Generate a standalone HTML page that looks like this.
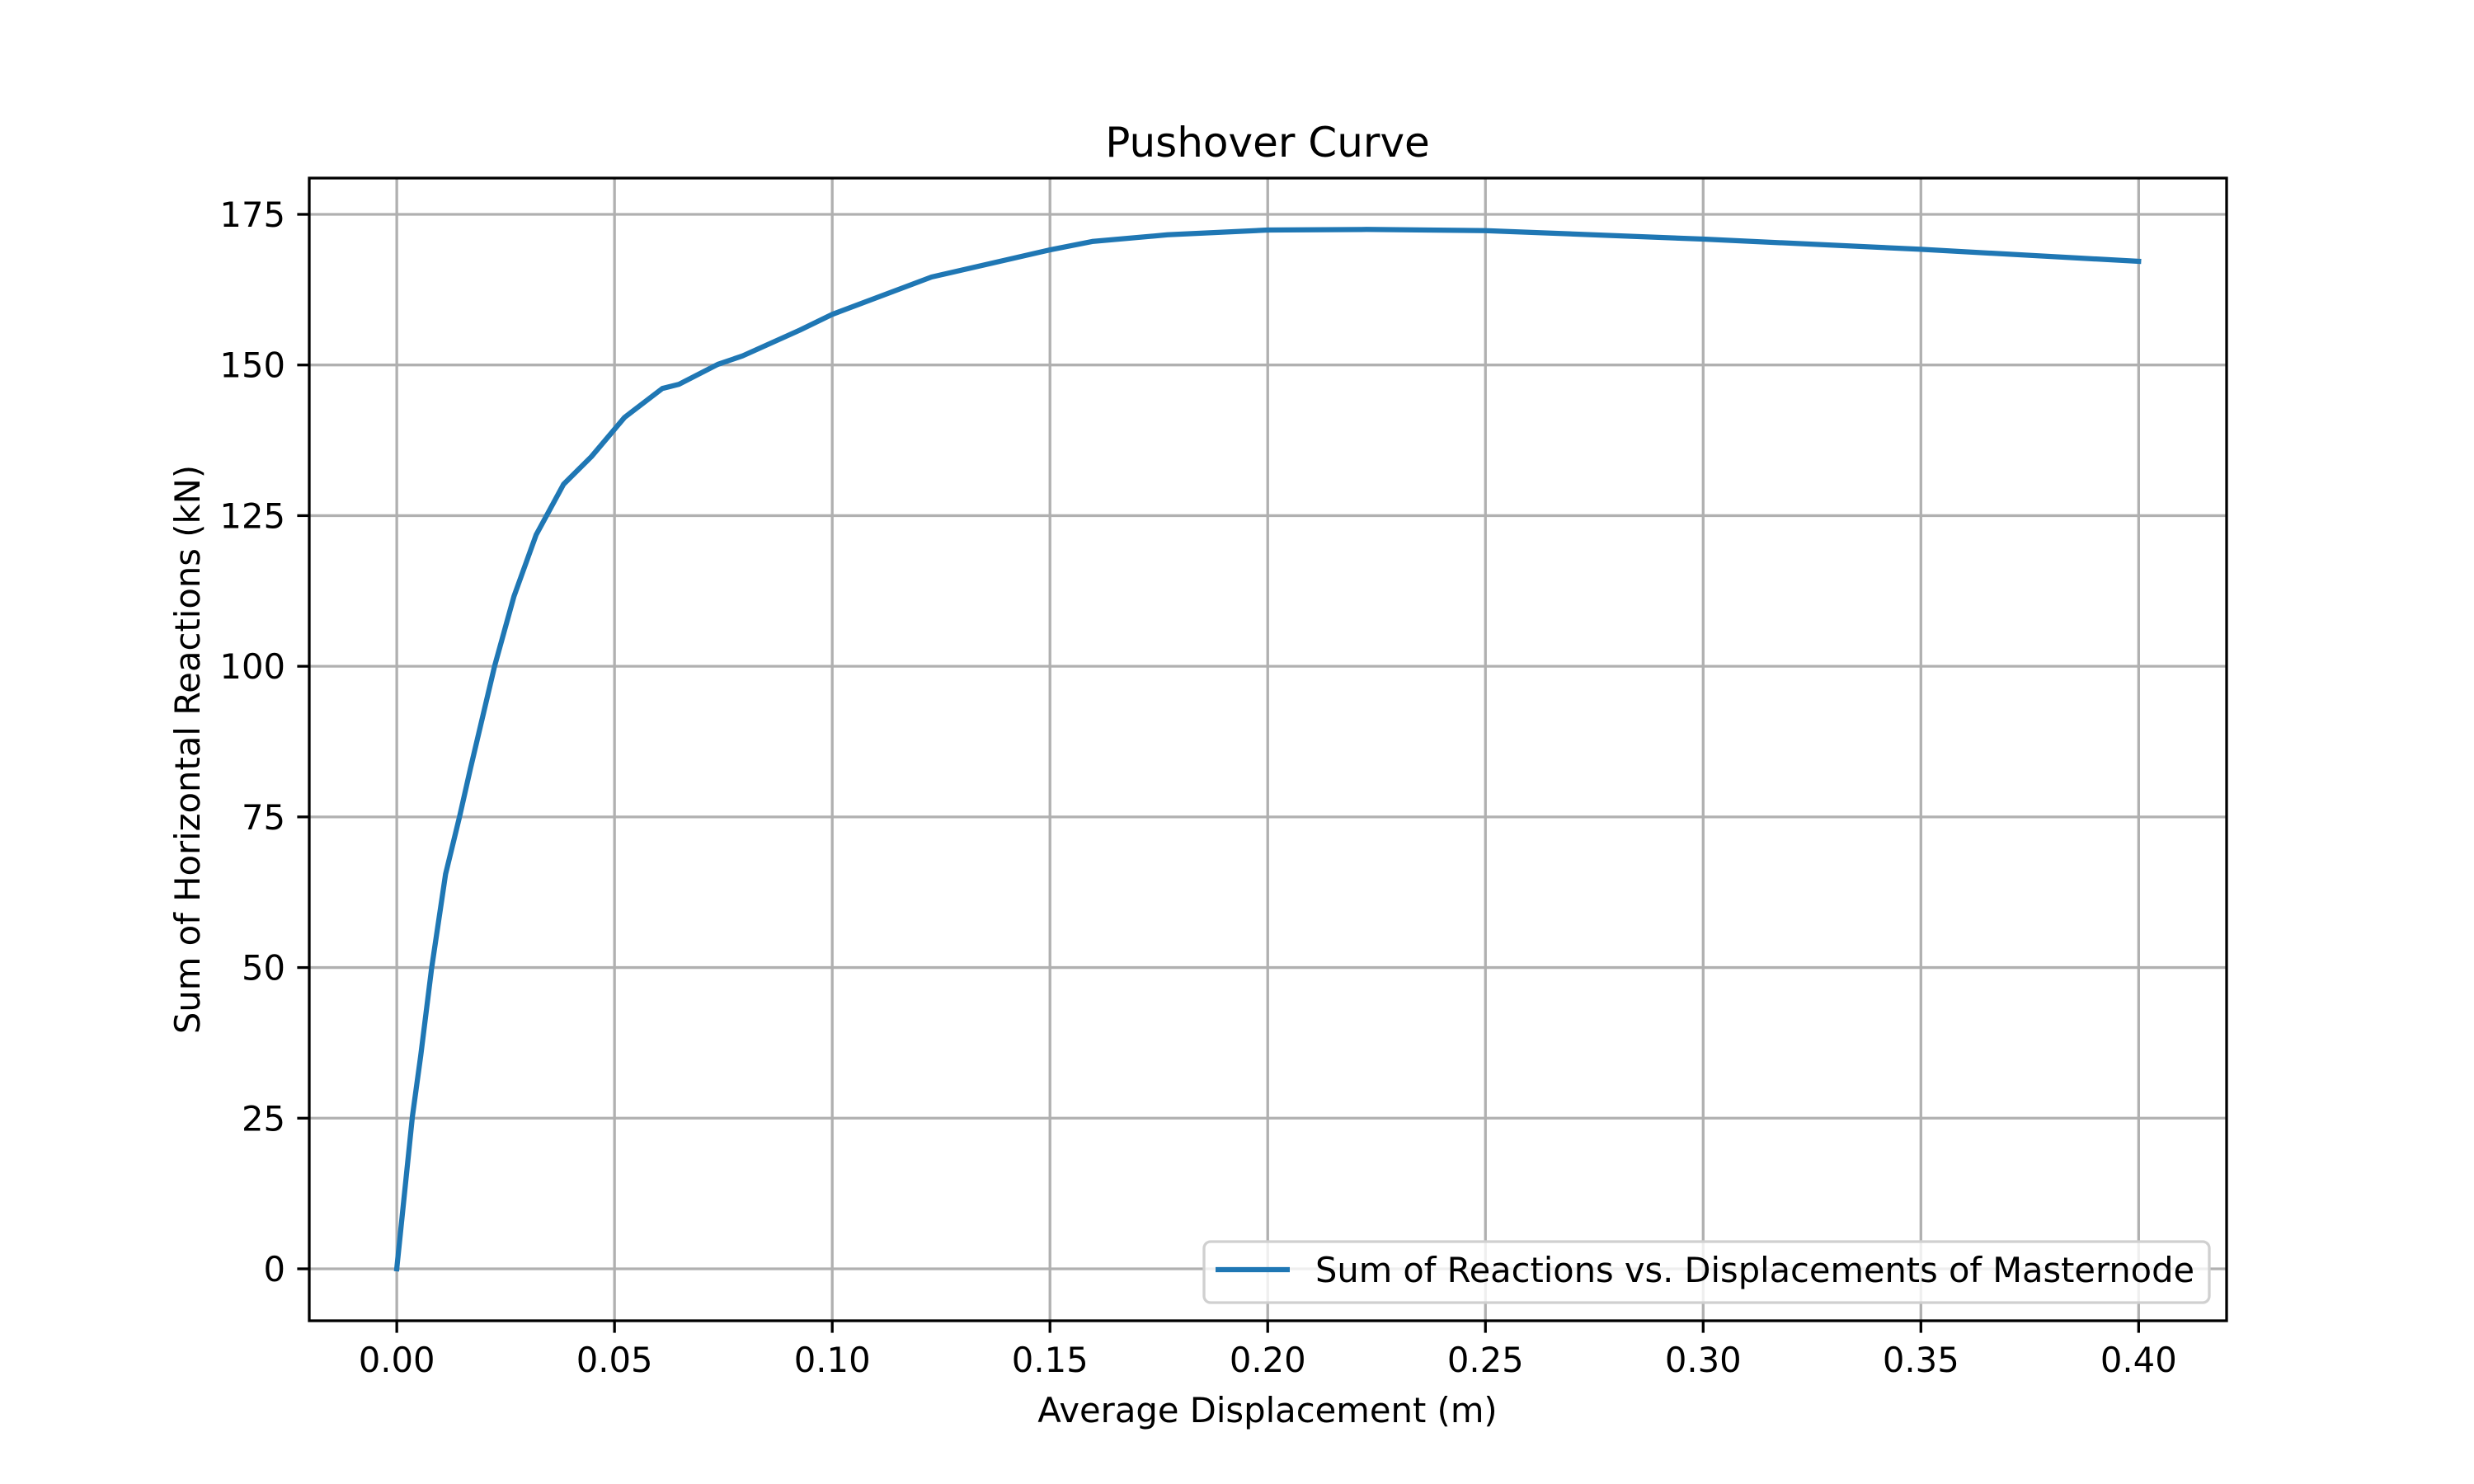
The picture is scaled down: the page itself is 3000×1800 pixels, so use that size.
<!DOCTYPE html>
<html><head><meta charset="utf-8"><style>body{margin:0;background:#fff}svg{display:block;font-family:"DejaVu Sans","Liberation Sans",sans-serif}</style></head>
<body>
<svg id="chart" width="3000" height="1800" viewBox="0 0 3000 1800">
<rect width="3000" height="1800" fill="#fff"/>
<g id="grid"></g>
<g id="ticks"></g>
<g id="series"></g>
<rect x="375" y="216" width="2325" height="1386" fill="none" stroke="#000" stroke-width="3.3"/>
<text x="1537" y="190" font-size="50" text-anchor="middle">Pushover Curve</text>
<text x="1537" y="1725" font-size="41.7" text-anchor="middle">Average Displacement (m)</text>
<text x="0" y="0" font-size="41.7" text-anchor="middle" transform="translate(242,909) rotate(-90)">Sum of Horizontal Reactions (kN)</text>
<g>
<rect x="1460" y="1506" width="1219" height="74" rx="8" fill="#fff" fill-opacity="0.8" stroke="#d0d0d0" stroke-width="3.3"/>
<line x1="1474" y1="1540" x2="1564" y2="1540" stroke="#1f77b4" stroke-width="6.25"/>
<text x="1595" y="1555" font-size="41.7" textLength="1066" lengthAdjust="spacingAndGlyphs">Sum of Reactions vs. Displacements of Masternode</text>
</g>
</svg>
<script>
const xValues=[0,0.0036,0.0055,0.008,0.0112,0.0144,0.0169,0.0225,0.0269,0.032,0.0383,0.0447,0.0523,0.061,0.0648,0.0737,0.0794,0.0926,0.10,0.1228,0.15,0.1597,0.177,0.20,0.2227,0.25,0.30,0.35,0.40];
const yValues=[0,25.3,35.4,49.9,65.5,75,83,100.1,111.6,121.8,130.2,134.8,141.3,146.1,146.8,150.1,151.5,155.8,158.4,164.6,169.1,170.5,171.6,172.4,172.5,172.3,170.9,169.2,167.2];
const xTicks=[0,0.05,0.1,0.15,0.2,0.25,0.3,0.35,0.4];
const yTicks=[0,25,50,75,100,125,150,175];
const L=375,R=2700,T=216,B=1602;
const xMin=-0.0201,xMax=0.4202,yMin=-8.62,yMax=181.02;
const sx=v=>L+(v-xMin)/(xMax-xMin)*(R-L);
const sy=v=>B-(v-yMin)/(yMax-yMin)*(B-T);
const NS="http://www.w3.org/2000/svg";
const grid=document.getElementById('grid'),ticks=document.getElementById('ticks'),series=document.getElementById('series');
function mk(tag,attrs,parent){const e=document.createElementNS(NS,tag);for(const k in attrs)e.setAttribute(k,attrs[k]);parent.appendChild(e);return e;}
xTicks.forEach(t=>{const x=sx(t);
 const g=mk('line',{x1:x,x2:x,y1:T,y2:B,stroke:'#b0b0b0','stroke-width':3.3},grid);
 
 
 const tk=mk('line',{x1:x,x2:x,y1:B,y2:B+14.6,stroke:'#000','stroke-width':3.3},ticks);
 
 
 const tx=mk('text',{x:x,y:1664,'font-size':41.7,'text-anchor':'middle'},ticks);
 tx.textContent=t.toFixed(2);
 
 
});
yTicks.forEach(t=>{const y=sy(t);
 const g=mk('line',{x1:L,x2:R,y1:y,y2:y,stroke:'#b0b0b0','stroke-width':3.3},grid);
 
 
 const tk=mk('line',{x1:L-14.6,x2:L,y1:y,y2:y,stroke:'#000','stroke-width':3.3},ticks);
 
 
 const tx=mk('text',{x:L-29,y:y+15,'font-size':41.7,'text-anchor':'end'},ticks);
 tx.textContent=String(t);
 
 
});
const d=xValues.map((v,i)=>(i?'L':'M')+sx(v).toFixed(1)+','+sy(yValues[i]).toFixed(1)).join(' ');
const p=mk('path',{d:d,fill:'none',stroke:'#1f77b4','stroke-width':6.25,'stroke-linejoin':'round','stroke-linecap':'square'},series);


</script>
</body></html>
